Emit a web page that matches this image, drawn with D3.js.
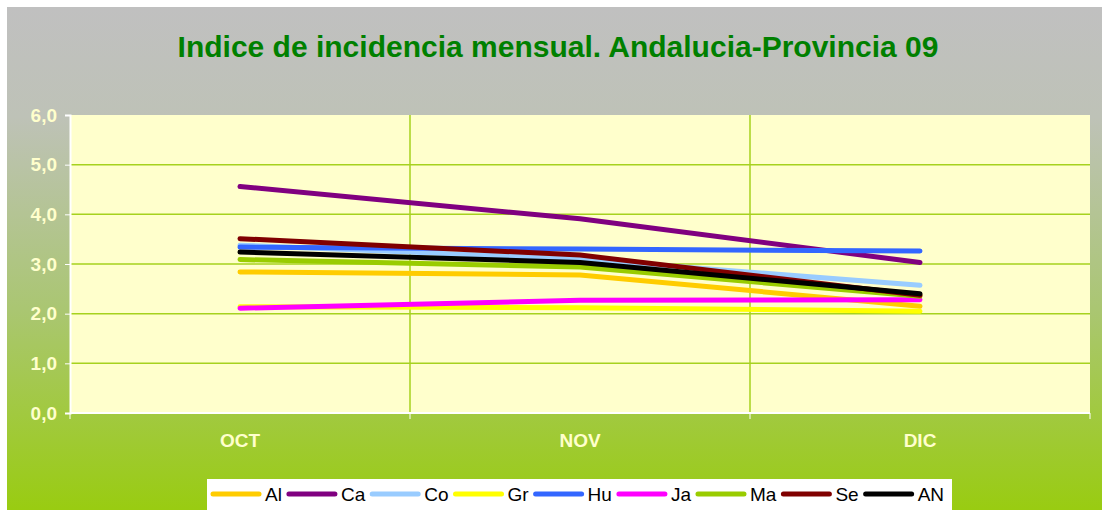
<!DOCTYPE html>
<html>
<head>
<meta charset="utf-8">
<script src="https://cdn.jsdelivr.net/npm/d3@7"></script>
<style>
  body { margin: 0; background: #ffffff; }
  svg { display: block; }
</style>
</head>
<body>
<div id="chart"></div>
<script>
// months on the x axis
const months = ["OCT", "NOV", "DIC"];

// y axis ticks
const yTicks = [0, 1, 2, 3, 4, 5, 6];

// one array per province
const seriesNames = ["Al", "Ca", "Co", "Gr", "Hu", "Ja", "Ma", "Se", "AN"];
const Al = [2.84, 2.78, 2.15];
const Ca = [4.56, 3.91, 3.03];
const Co = [3.38, 3.10, 2.57];
const Gr = [2.14, 2.12, 2.05];
const Hu = [3.34, 3.30, 3.26];
const Ja = [2.11, 2.27, 2.28];
const Ma = [3.09, 2.94, 2.35];
const Se = [3.51, 3.18, 2.37];
const AN = [3.24, 3.03, 2.40];
const seriesValues = [Al, Ca, Co, Gr, Hu, Ja, Ma, Se, AN];
const seriesColors = ["#FFCC00", "#800080", "#99CCFF", "#FFFF00", "#3366FF", "#FF00FF", "#99CC00", "#800000", "#000000"];

const width = 1102;
const height = 510;
const plot = { left: 70, right: 1090, top: 115, bottom: 413 };
const font = "'Liberation Sans', Arial, sans-serif";

const svg = d3.select("#chart")
              .append("svg")
              .attr("width", width)
              .attr("height", height);

// background gradient (grey on top, green at the bottom)
const defs = svg.append("defs");
const grad = defs.append("linearGradient")
                 .attr("id", "bg")
                 .attr("x1", 0).attr("y1", 0)
                 .attr("x2", 0).attr("y2", 1);
grad.append("stop").attr("offset", "0%").attr("stop-color", "#c0c0c0");
grad.append("stop").attr("offset", "22%").attr("stop-color", "#bec2b7");
grad.append("stop").attr("offset", "60%").attr("stop-color", "#aac672");
grad.append("stop").attr("offset", "100%").attr("stop-color", "#99cc11");

svg.append("rect")
   .attr("x", 7).attr("y", 7)
   .attr("width", width - 7).attr("height", height - 7)
   .attr("fill", "url(#bg)");

// title
svg.append("text")
   .attr("x", 558)
   .attr("y", 57)
   .attr("text-anchor", "middle")
   .style("font-family", font)
   .style("font-size", "30px")
   .style("font-weight", "bold")
   .style("fill", "#008000")
   .text("Indice de incidencia mensual. Andalucia-Provincia 09");

// scales
const x = d3.scaleBand()
            .domain(months)
            .range([plot.left, plot.right]);

const y = d3.scaleLinear()
            .domain([0, 6])
            .range([plot.bottom, plot.top]);

// plot area
svg.append("rect")
   .attr("x", plot.left)
   .attr("y", plot.top)
   .attr("width", plot.right - plot.left)
   .attr("height", plot.bottom - plot.top)
   .attr("fill", "#FFFFCC");

// horizontal gridlines
svg.append("g")
   .selectAll("line")
   .data(yTicks.filter(d => d > 0 && d < 6))
   .enter()
   .append("line")
   .attr("x1", plot.left)
   .attr("x2", plot.right)
   .attr("y1", d => y(d))
   .attr("y2", d => y(d))
   .attr("stroke", "#a6d21e")
   .attr("stroke-width", 1.5);

// vertical gridlines between months
svg.append("g")
   .selectAll("line")
   .data(months.slice(1))
   .enter()
   .append("line")
   .attr("x1", d => x(d))
   .attr("x2", d => x(d))
   .attr("y1", plot.top)
   .attr("y2", plot.bottom)
   .attr("stroke", "#a6d21e")
   .attr("stroke-width", 1.5);

// y axis
const yAxis = svg.append("g")
                 .attr("transform", `translate(${plot.left},0)`)
                 .call(d3.axisLeft(y)
                         .tickValues(yTicks)
                         .tickSize(5)
                         .tickPadding(8)
                         .tickFormat(d => d3.format(".1f")(d).replace(".", ",")));
yAxis.select(".domain").attr("stroke", "#ffffff").attr("stroke-width", 2);
yAxis.selectAll(".tick line").attr("stroke", "#ffffff");
yAxis.selectAll(".tick text")
     .style("font-family", font)
     .style("font-size", "19px")
     .style("font-weight", "bold")
     .style("fill", "#FFFFCC");

// x axis (ticks at the band edges)
const xAxis = svg.append("g")
                 .attr("transform", `translate(0,${plot.bottom})`);
xAxis.append("line")
     .attr("x1", plot.left)
     .attr("x2", plot.right)
     .attr("stroke", "#ffffff")
     .attr("stroke-width", 2);
xAxis.selectAll(".edge")
     .data(months.concat(["end"]))
     .enter()
     .append("line")
     .attr("class", "edge")
     .attr("x1", (d, i) => i < months.length ? x(d) : plot.right)
     .attr("x2", (d, i) => i < months.length ? x(d) : plot.right)
     .attr("y1", 0)
     .attr("y2", 6)
     .attr("stroke", "#ffffff");
xAxis.selectAll(".label")
     .data(months)
     .enter()
     .append("text")
     .attr("class", "label")
     .attr("x", d => x(d) + x.bandwidth() / 2)
     .attr("y", 34)
     .attr("text-anchor", "middle")
     .style("font-family", font)
     .style("font-size", "19px")
     .style("font-weight", "bold")
     .style("fill", "#FFFFCC")
     .text(d => d);

// lines
const line = d3.line()
               .x((d, i) => x(months[i]) + x.bandwidth() / 2)
               .y(d => y(d));

svg.append("g")
   .selectAll("path")
   .data(seriesValues)
   .enter()
   .append("path")
   .attr("d", line)
   .attr("fill", "none")
   .attr("stroke", (d, i) => seriesColors[i])
   .attr("stroke-width", 5)
   .attr("stroke-linecap", "round")
   .attr("stroke-linejoin", "round");

// legend
const legend = svg.append("g");
legend.append("rect")
      .attr("x", 207)
      .attr("y", 479)
      .attr("width", 745)
      .attr("height", 31)
      .attr("fill", "#ffffff");

let lx = 213;
seriesNames.forEach((name, i) => {
    legend.append("line")
          .attr("x1", lx)
          .attr("x2", lx + 46)
          .attr("y1", 494)
          .attr("y2", 494)
          .attr("stroke", seriesColors[i])
          .attr("stroke-width", 5)
          .attr("stroke-linecap", "round");
    const t = legend.append("text")
                    .attr("x", lx + 52)
                    .attr("y", 501)
                    .style("font-family", font)
                    .style("font-size", "19px")
                    .style("fill", "#000000")
                    .text(name);
    lx += 52 + t.node().getComputedTextLength() + 7;
});
</script>
</body>
</html>
